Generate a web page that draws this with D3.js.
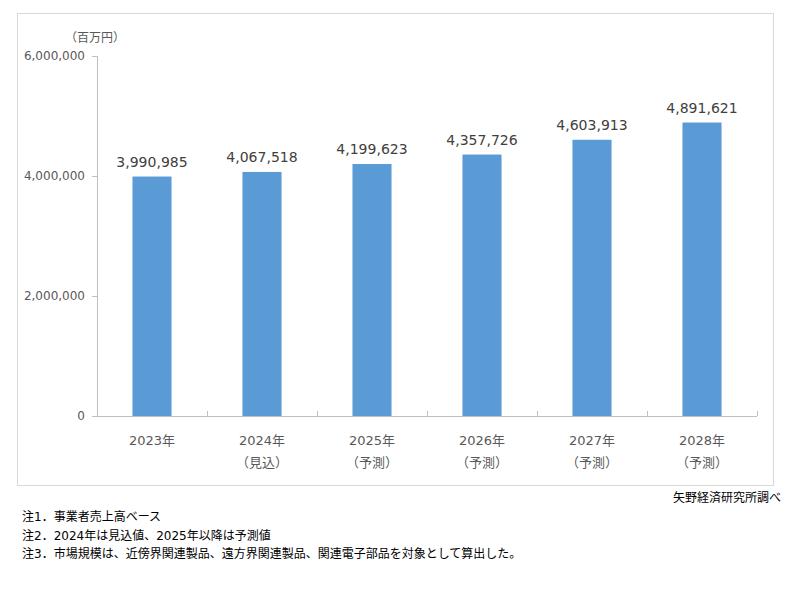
<!DOCTYPE html>
<html><head><meta charset="utf-8">
<script src="https://cdn.jsdelivr.net/npm/d3@7"></script>
<style>body{margin:0;background:#fff}svg{display:block}</style>
</head><body>
<script>
const categories = ["2023年","2024年","2025年","2026年","2027年","2028年"];
const subLabels = ["","（見込）","（予測）","（予測）","（予測）","（予測）"];
const values = [3990985,4067518,4199623,4357726,4603913,4891621];
const yTicks = [0,2000000,4000000,6000000];
const notes = ["注1．事業者売上高ベース","注2．2024年は見込値、2025年以降は予測値","注3．市場規模は、近傍界関連製品、遠方界関連製品、関連電子部品を対象として算出した。"];

const W=786,H=598;
const font = "'DejaVu Sans','Noto Sans CJK JP',sans-serif";
const svg = d3.select("body").append("svg").attr("width",W).attr("height",H).style("font-family",font);
svg.append("rect").attr("x",17.5).attr("y",13.5).attr("width",756).attr("height",472).attr("fill","#fff").attr("stroke","#d9d9d9");

const x = d3.scaleBand().domain(categories).range([97,757]).paddingInner(0.645).paddingOuter(0.3225);
const xb = d3.scaleBand().domain(categories).range([97,757]);
const y = d3.scaleLinear().domain([0,6000000]).range([416,56]);
const fmt = d3.format(",");

// y axis
const ya = svg.append("g").attr("transform","translate(97,0)").call(d3.axisLeft(y).tickValues(yTicks).tickFormat(fmt).tickSize(5).tickPadding(7));
ya.select(".domain").attr("stroke","#bfbfbf").attr("d","M-5,56.5H0.5V416.5");
ya.selectAll(".tick line").attr("stroke","#bfbfbf");
ya.selectAll("text").attr("fill","#595959").style("font-size","12px").style("font-family",font);

// x axis
const xa = svg.append("g").attr("transform","translate(0,416)");
xa.append("line").attr("x1",97).attr("x2",757).attr("y1",0.5).attr("y2",0.5).attr("stroke","#bfbfbf");
xa.selectAll("line.t").data(categories.map(c=>xb(c)).concat([757])).join("line").attr("class","t")
  .attr("x1",d=>d+0.5).attr("x2",d=>d+0.5).attr("y1",0).attr("y2",-5).attr("stroke","#bfbfbf");

svg.selectAll("rect.bar").data(values).join("rect").attr("class","bar")
  .attr("x",(d,i)=>x(categories[i])).attr("width",x.bandwidth())
  .attr("y",d=>y(d)).attr("height",d=>y(0)-y(d)).attr("fill","#5b9bd5");

svg.selectAll("text.val").data(values).join("text").attr("class","val")
  .attr("x",(d,i)=>xb(categories[i])+xb.bandwidth()/2).attr("y",d=>y(d)-10)
  .attr("text-anchor","middle").attr("fill","#404040").style("font-size","14px").text(d=>fmt(d));

svg.selectAll("text.cat").data(categories).join("text").attr("class","cat")
  .attr("x",d=>xb(d)+xb.bandwidth()/2).attr("y",445).attr("text-anchor","middle")
  .attr("fill","#595959").style("font-size","13px").text(d=>d);
svg.selectAll("text.sub").data(subLabels).join("text").attr("class","sub")
  .attr("x",(d,i)=>xb(categories[i])+xb.bandwidth()/2).attr("y",467).attr("text-anchor","middle")
  .attr("fill","#595959").style("font-size","13px").text(d=>d);

svg.append("text").attr("x",65).attr("y",42).attr("fill","#595959").style("font-size","12px").text("（百万円）");
svg.append("text").attr("x",781).attr("y",502).attr("text-anchor","end").attr("fill","#000").style("font-size","12px").text("矢野経済研究所調べ");
svg.selectAll("text.note").data(notes).join("text").attr("class","note")
  .attr("x",22).attr("y",(d,i)=>521+i*18.5).attr("fill","#000").style("font-size","12px").text(d=>d);
</script>
</body></html>
